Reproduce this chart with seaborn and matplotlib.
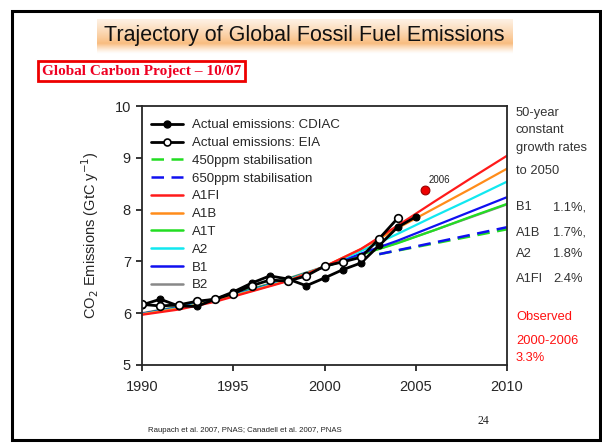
import numpy as np
import pandas as pd
import matplotlib
matplotlib.use('Agg')
import matplotlib.pyplot as plt
from matplotlib.patches import Rectangle
from matplotlib.lines import Line2D
import seaborn as sns

# ── Data ──────────────────────────────────────────────────────────────────────
obs_years = list(range(1990, 2006))
cdiac = [6.16, 6.27, 6.14, 6.13, 6.27, 6.41, 6.58, 6.72, 6.66, 6.53,
         6.68, 6.84, 6.97, 7.31, 7.66, 7.86]
eia_years = list(range(1990, 2005))
eia = [6.17, 6.14, 6.16, 6.23, 6.27, 6.38, 6.53, 6.64, 6.62, 6.72,
       6.91, 6.99, 7.08, 7.44, 7.83]

scen_years = [1990, 1992, 1994, 1996, 1998, 2000, 2002, 2004, 2006, 2008, 2010]
a1fi = [5.97, 6.07, 6.22, 6.42, 6.62, 6.90, 7.24, 7.69, 8.15, 8.60, 9.04]
a1b  = [5.98, 6.09, 6.24, 6.43, 6.63, 6.90, 7.24, 7.64, 8.02, 8.40, 8.79]
a1t  = [5.99, 6.12, 6.27, 6.46, 6.66, 6.89, 7.13, 7.35, 7.60, 7.86, 8.11]
a2   = [5.98, 6.10, 6.25, 6.44, 6.64, 6.90, 7.20, 7.53, 7.87, 8.20, 8.54]
b1   = [5.99, 6.11, 6.26, 6.45, 6.65, 6.89, 7.15, 7.40, 7.68, 7.96, 8.24]
b2   = [6.00, 6.13, 6.28, 6.47, 6.67, 6.90, 7.13, 7.36, 7.60, 7.85, 8.10]

stab_years = [2003, 2010]
stab450 = [7.14, 7.62]
stab650 = [7.14, 7.66]

point_2006 = (2005.5, 8.38)

# ── Figure ────────────────────────────────────────────────────────────────────
sns.set_style('ticks')
plt.rcParams['font.family'] = ['Liberation Sans', 'DejaVu Sans']
SANS = ['Liberation Sans', 'DejaVu Sans']
SERIF = ['Liberation Serif', 'DejaVu Serif']

fig = plt.figure(figsize=(6.02, 4.46), dpi=100)
W, H = 602, 446

def fx(px):
    return px / W

def fy(py):
    return 1 - py / H

# slide border
fig.patches.append(Rectangle((fx(12), fy(440)), fx(600) - fx(12), fy(11) - fy(440),
                             transform=fig.transFigure, fill=False,
                             edgecolor='black', linewidth=2.2))

# title with orange band (vertical fade)
tax = fig.add_axes([fx(97), fy(54), fx(513) - fx(97), fy(19) - fy(54)])
t = np.linspace(0, 1, 60)  # top -> bottom
prof = np.where(t < 0.7, 0.3 + 0.7 * (t / 0.7), 1 - (t - 0.7) / 0.3)
prof = np.clip(prof, 0, 1) ** 1.3
c0 = np.array([1.0, 1.0, 1.0])
c1 = np.array([0.975, 0.74, 0.50])
img = c0[None, None, :] + (c1 - c0)[None, None, :] * prof[:, None, None] * np.ones((1, 10, 1))
tax.imshow(img, aspect='auto', extent=[0, 1, 0, 1])
tax.axis('off')
fig.text(fx(304), fy(36), 'Trajectory of Global Fossil Fuel Emissions',
         ha='center', va='center', fontsize=15.5, family=SANS, color='#111111')

# Global Carbon Project box
fig.text(fx(42), fy(71), 'Global Carbon Project \u2013 10/07', ha='left', va='center',
         fontsize=11, fontweight='bold', family=SERIF, color='#EE0022',
         bbox=dict(boxstyle='square,pad=0.25', facecolor='white',
                   edgecolor='#EE0000', linewidth=2))

# ── Main axes ─────────────────────────────────────────────────────────────────
ax = fig.add_axes([fx(142), fy(365), fx(507) - fx(142), fy(106) - fy(365)])

scen = [('A1FI', a1fi, '#FF1A1A'), ('A1B', a1b, '#FF8C1A'),
        ('A1T', a1t, '#22DD22'), ('A2', a2, '#11E8F0'),
        ('B1', b1, '#1010F0'), ('B2', b2, '#888888')]

# draw back-to-front
for name, vals, col in [scen[5], scen[2], scen[4], scen[3], scen[1], scen[0]]:
    sns.lineplot(x=scen_years, y=vals, color=col, linewidth=1.6, ax=ax)

sns.lineplot(x=stab_years, y=stab450, color='#22DD22', linewidth=1.8,
             ax=ax, linestyle=(0, (5, 3)))
sns.lineplot(x=stab_years, y=stab650, color='#1010F0', linewidth=1.8,
             ax=ax, linestyle=(0, (5, 3)))

sns.lineplot(x=obs_years, y=cdiac, color='black', linewidth=2, marker='o',
             markersize=5, markerfacecolor='black', markeredgecolor='black', ax=ax)
sns.lineplot(x=eia_years, y=eia, color='black', linewidth=2, marker='o',
             markersize=5.5, markerfacecolor='white', markeredgecolor='black',
             markeredgewidth=1.2, ax=ax)

ax.scatter([point_2006[0]], [point_2006[1]], s=40, color='#EE0000',
           edgecolor='#990000', linewidth=0.8, zorder=5)
ax.annotate('2006', point_2006, xytext=(3, 5), textcoords='offset points',
            fontsize=7, color='#222222')

ax.set_xlim(1990, 2010)
ax.set_ylim(5, 10)
ax.set_xticks([1990, 1995, 2000, 2005, 2010])
ax.set_yticks([5, 6, 7, 8, 9, 10])
ax.tick_params(labelsize=10.5, direction='out', length=4, width=1.3)
ax.tick_params(axis='x', pad=7)
ax.tick_params(axis='y', pad=4)
for s in ax.spines.values():
    s.set_linewidth(1.3)
ax.set_ylabel('CO$_2$ Emissions (GtC y$^{-1}$)', fontsize=10.5, labelpad=10)
ax.set_xlabel('')

handles = [
    Line2D([], [], color='black', lw=2, marker='o', ms=5, mfc='black'),
    Line2D([], [], color='black', lw=2, marker='o', ms=5, mfc='white', mew=1.2),
    Line2D([], [], color='#22DD22', lw=1.8, ls=(0, (5, 3))),
    Line2D([], [], color='#1010F0', lw=1.8, ls=(0, (5, 3))),
] + [Line2D([], [], color=c, lw=1.8) for _, _, c in scen]
labels = ['Actual emissions: CDIAC', 'Actual emissions: EIA',
          '450ppm stabilisation', '650ppm stabilisation'] + [n for n, _, _ in scen]
ax.legend(handles, labels, loc='upper left', bbox_to_anchor=(0.0, 0.985),
          frameon=False, fontsize=9.5, handlelength=2.4, labelspacing=0.42,
          handletextpad=0.7, borderaxespad=0.3)

# ── Right-hand notes ──────────────────────────────────────────────────────────
note_font = dict(fontsize=9.3, family=SANS, va='center', ha='left')
for py, txt in [(113, '50-year'), (130, 'constant'), (148, 'growth rates'), (171, 'to 2050')]:
    fig.text(fx(516), fy(py), txt, color='#333333', **note_font)
for py, n, v in [(207, 'B1', '1.1%,'), (233, 'A1B', '1.7%,'),
                 (254, 'A2', '1.8%'), (279, 'A1FI', '2.4%')]:
    fig.text(fx(516), fy(py), n, color='#333333', **note_font)
    fig.text(fx(553), fy(py), v, color='#333333', **note_font)
for py, txt in [(317, 'Observed'), (341, '2000-2006'), (358, '3.3%')]:
    fig.text(fx(516), fy(py), txt, color='#FF1111', **note_font)

# ── Footer ────────────────────────────────────────────────────────────────────
fig.text(fx(148), fy(431), 'Raupach et al. 2007, PNAS; Canadell et al. 2007, PNAS',
         fontsize=5.6, family=SANS, ha='left', va='center', color='#222222')
fig.text(fx(478), fy(421), '24', fontsize=8.5, family=SERIF,
         ha='left', va='center', color='#222222')

fig.savefig('out.png', dpi=100)
